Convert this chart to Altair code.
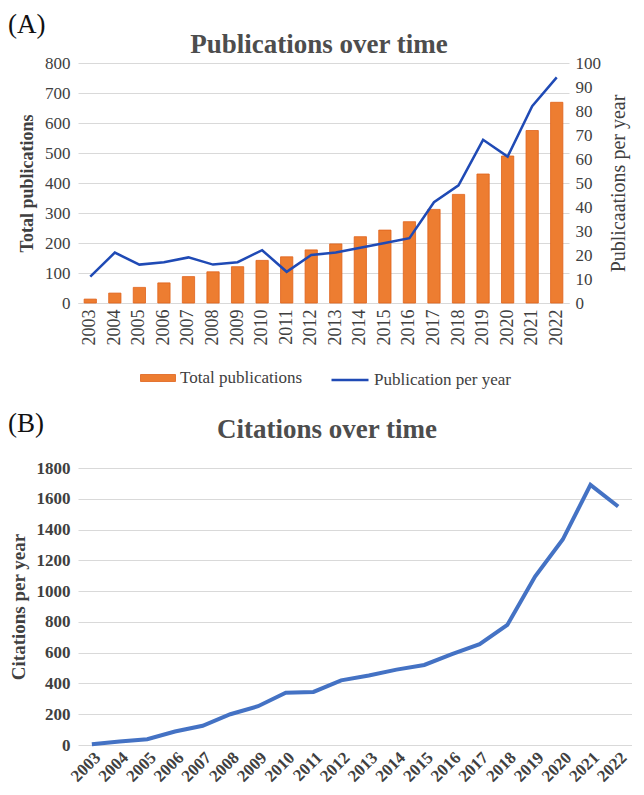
import altair as alt
import pandas as pd

years = [str(y) for y in range(2003, 2023)]
total_pubs = [13, 33, 52, 67, 88, 104, 121, 142, 154, 177, 197, 221, 243, 271, 312, 362, 430, 490, 575, 669]
pubs_per_year = [11, 21, 16, 17, 19, 16, 17, 22, 13, 20, 21, 23, 25, 27, 42, 49, 68, 61, 82, 94]
citations = [5, 22, 38, 88, 125, 200, 252, 340, 345, 420, 452, 490, 520, 590, 655, 780, 1095, 1335, 1690, 1550]

left_ticks = [0, 100, 200, 300, 400, 500, 600, 700, 800]
right_ticks = [0, 10, 20, 30, 40, 50, 60, 70, 80, 90, 100]
cit_ticks = [0, 200, 400, 600, 800, 1000, 1200, 1400, 1600, 1800]

SERIF = "Liberation Serif"
TXT = "#404040"
GRID = "#d9d9d9"
W1, H1 = 491, 240
W2, H2 = 554, 277

df1 = pd.DataFrame({"year": years, "total": total_pubs, "per_year": pubs_per_year})
df2 = pd.DataFrame({"year": years, "citations": citations})

x1 = alt.X(
    "year:O", title=None,
    scale=alt.Scale(paddingInner=0.5, paddingOuter=0.25),
    axis=alt.Axis(labelAngle=-90, labelFont=SERIF, labelFontSize=18, labelColor=TXT,
                  ticks=False, domainColor=GRID, labelPadding=6, labelBaseline="middle"),
)

bars = alt.Chart(df1).transform_calculate(series="'Total publications'").mark_bar(
    stroke="#E0621B", strokeWidth=0.8
).encode(
    x=x1,
    y=alt.Y("total:Q", scale=alt.Scale(domain=[0, 800]),
            axis=alt.Axis(title="Total publications", values=left_ticks, orient="left",
                          grid=True, gridColor=GRID, domain=False, ticks=False,
                          labelFont=SERIF, labelFontSize=17, labelColor=TXT, labelPadding=8,
                          titleFont=SERIF, titleFontSize=18, titleFontWeight="bold",
                          titleColor=TXT, titlePadding=8)),
    fill=alt.Fill("series:N", scale=alt.Scale(range=["#ED7D31"]),
                  legend=alt.Legend(orient="none", legendX=62, legendY=297, title=None,
                                    labelFont=SERIF, labelFontSize=17, labelColor=TXT,
                                    symbolType="M-1,-0.2H1V0.2H-1Z", symbolSize=1225,
                                    symbolStrokeColor="#E0621B", symbolStrokeWidth=0.8)),
)

line1 = alt.Chart(df1).transform_calculate(series2="'Publication per year'").mark_line(
    strokeWidth=2.5
).encode(
    x=x1,
    y=alt.Y("per_year:Q", scale=alt.Scale(domain=[0, 100]),
            axis=alt.Axis(title="Publicaations per year", values=right_ticks, orient="right",
                          grid=False, domain=False, ticks=False,
                          labelFont=SERIF, labelFontSize=17, labelColor=TXT, labelPadding=6,
                          titleFont=SERIF, titleFontSize=20, titleFontWeight="normal",
                          titleColor=TXT, titlePadding=8, titleAngle=270,
                          titleBaseline="top")),
    stroke=alt.Stroke("series2:N", scale=alt.Scale(range=["#1F4AB5"]),
                      legend=alt.Legend(orient="none", legendX=252, legendY=297, title=None,
                                        labelFont=SERIF, labelFontSize=17, labelColor=TXT,
                                        symbolType="stroke", symbolSize=1369,
                                        symbolStrokeWidth=2.5)),
)

tagA = alt.Chart(pd.DataFrame({"t": ["(A)"]})).mark_text(
    align="left", baseline="alphabetic", font=SERIF, fontSize=27, color="#111111"
).encode(text="t:N", x=alt.value(-70), y=alt.value(-30))

titleA = alt.Chart(pd.DataFrame({"t": ["Publications over time"]})).mark_text(
    align="center", baseline="alphabetic", font=SERIF, fontSize=27, fontWeight="bold",
    color="#4d4d4d"
).encode(text="t:N", x=alt.value(241), y=alt.value(-10))

top = alt.layer(bars, line1, tagA, titleA).resolve_scale(
    y="independent", fill="independent", stroke="independent"
).properties(width=W1, height=H1)

line2 = alt.Chart(df2).mark_line(strokeWidth=4, color="#4472C4").encode(
    x=alt.X("year:O", title=None,
            axis=alt.Axis(labelAngle=-45, labelFont=SERIF, labelFontSize=17,
                          labelFontWeight="bold", labelColor=TXT, ticks=False,
                          domain=False, labelPadding=4)),
    y=alt.Y("citations:Q", scale=alt.Scale(domain=[0, 1800]),
            axis=alt.Axis(title="Citations per year", values=cit_ticks, grid=True,
                          gridColor=GRID, domain=False, ticks=False, format="d",
                          labelFont=SERIF, labelFontSize=17, labelFontWeight="bold",
                          labelColor=TXT, labelPadding=8,
                          titleFont=SERIF, titleFontSize=19, titleFontWeight="bold",
                          titleColor=TXT, titlePadding=8)),
)

tagB = alt.Chart(pd.DataFrame({"t": ["(B)"]})).mark_text(
    align="left", baseline="alphabetic", font=SERIF, fontSize=27, color="#111111"
).encode(text="t:N", x=alt.value(-70), y=alt.value(-36))

titleB = alt.Chart(pd.DataFrame({"t": ["Citations over time"]})).mark_text(
    align="center", baseline="alphabetic", font=SERIF, fontSize=27, fontWeight="bold",
    color="#4d4d4d"
).encode(text="t:N", x=alt.value(249), y=alt.value(-30))

bottom = alt.layer(line2, tagB, titleB).properties(width=W2, height=H2)

chart = alt.concat(top, bottom, columns=1, spacing=22).properties(
    padding={"top": 3, "left": 0, "right": 0, "bottom": 0}
).configure_view(stroke=None).configure_axis(labelFont=SERIF, titleFont=SERIF)

chart.save("out.html", embed_options={"renderer": "svg", "actions": False})
